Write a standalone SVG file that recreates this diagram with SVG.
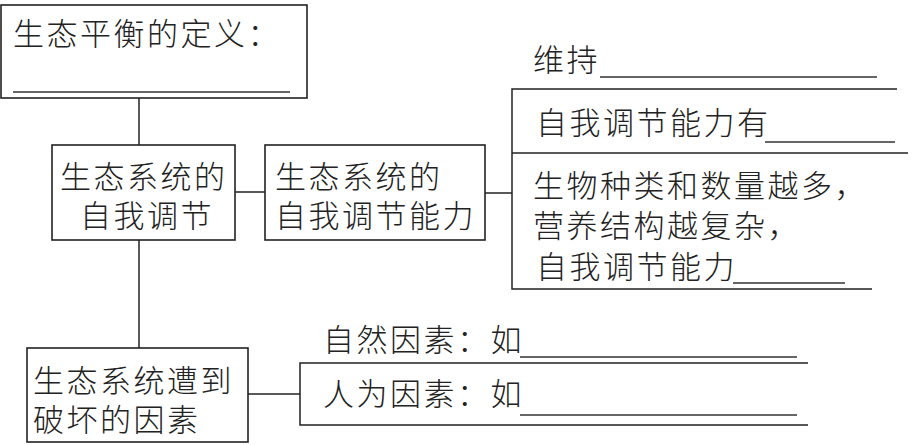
<svg xmlns="http://www.w3.org/2000/svg" width="917" height="445" viewBox="0 0 917 445">
<style>
.b{fill:none;stroke:#222;stroke-width:1.6}
.l{fill:none;stroke:#222;stroke-width:1.5}
.u{fill:none;stroke:#333;stroke-width:1.3}
text{font-family:"Noto Sans CJK SC","Noto Sans",sans-serif;font-size:31px;font-weight:300;fill:#222;letter-spacing:2.5px}
</style>
<rect width="917" height="445" fill="#fff"/>
<g id="connectors">
<line class="l" x1="139" y1="98" x2="139" y2="145"/>
<line class="l" x1="139" y1="240" x2="139" y2="348"/>
<line class="l" x1="235" y1="192" x2="265" y2="192"/>
<line class="l" x1="485" y1="193" x2="512" y2="193"/>
<line class="l" x1="248" y1="394" x2="300" y2="394"/>
</g>
<g id="definition">
<rect class="b" x="1" y="5" width="306" height="93"/>
<text x="13" y="45">生态平衡的定义：</text>
<line class="u" x1="13" y1="92" x2="290" y2="92"/>
</g>
<g id="self-regulation">
<rect class="b" x="52" y="145" width="183" height="95"/>
<text x="60" y="188">生态系统的<tspan x="80" y="227">自我调节</tspan></text>
</g>
<g id="self-regulation-ability">
<rect class="b" x="265" y="145" width="220" height="95"/>
<text x="275" y="188">生态系统的<tspan x="275" y="227">自我调节能力</tspan></text>
</g>
<g id="ability-details">
<polyline class="l" points="897,89 512,89 512,289 872,289"/>
<line class="l" x1="512" y1="153" x2="908" y2="153"/>
<text x="533" y="71">维持</text>
<line class="u" x1="600" y1="77" x2="877" y2="77"/>
<text x="536" y="134">自我调节能力有</text>
<line class="u" x1="765" y1="142" x2="895" y2="142"/>
<text x="533" y="197">生物种类和数量越多，<tspan x="533" y="237">营养结构越复杂，</tspan><tspan x="536" y="278">自我调节能力</tspan></text>
<line class="u" x1="733" y1="283" x2="845" y2="283"/>
</g>
<g id="destruction-factors">
<rect class="b" x="27" y="348" width="221" height="94"/>
<text x="33" y="392">生态系统遭到<tspan x="33" y="431">破坏的因素</tspan></text>
</g>
<g id="factor-details">
<polyline class="l" points="808,363 300,363 300,425 808,425"/>
<text x="323" y="351">自然因素：如</text>
<line class="u" x1="520" y1="357" x2="797" y2="357"/>
<text x="323" y="405">人为因素：如</text>
<line class="u" x1="520" y1="415" x2="797" y2="415"/>
</g>
</svg>
